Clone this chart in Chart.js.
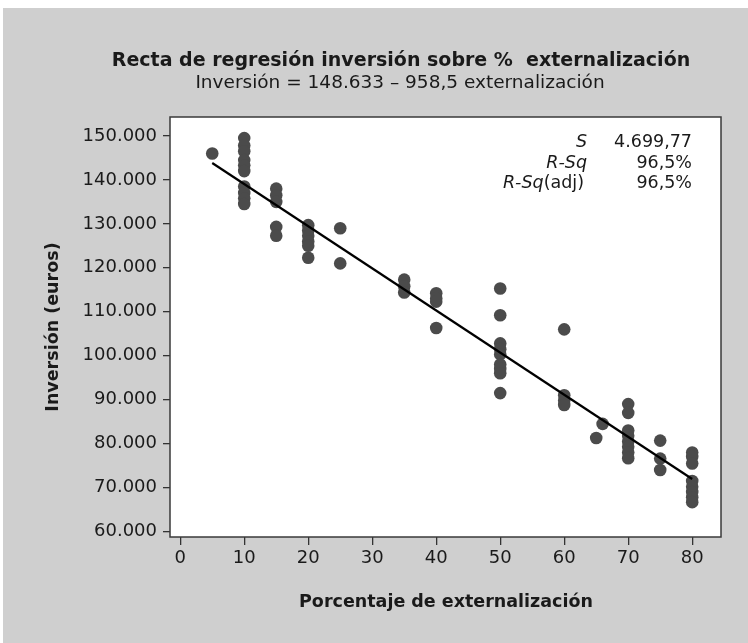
<!DOCTYPE html>
<html>
<head>
<meta charset="utf-8">
<script src="https://cdn.jsdelivr.net/npm/chart.js"></script>
<style>
  body { margin: 0; background: #fff; }
  #bg { position: absolute; left: 3px; top: 8px; width: 745px; height: 635px; background: #cfcfcf; }
  canvas { position: absolute; left: 0; top: 0; }
</style>
</head>
<body>
<div id="bg"></div>
<canvas id="Chart" width="748" height="643"></canvas>
<script>
// porcentaje de externalizacion (x) and inversion in euros (y)
const pctExternal = [
  5,
  10, 10, 10, 10, 10, 10, 10, 10, 10, 10,
  15, 15, 15, 15, 15,
  20, 20, 20, 20, 20, 20,
  25, 25,
  35, 35, 35,
  40, 40, 40, 40,
  50, 50, 50, 50, 50, 50, 50, 50, 50,
  60, 60, 60, 60,
  65, 66,
  70, 70, 70, 70, 70, 70, 70, 70,
  75, 75, 75,
  80, 80, 80, 80, 80, 80, 80, 80
];
const inversion = [
  146000,
  149500, 147800, 146500, 144500, 143300, 142000, 138500, 137000, 135800, 134500,
  138000, 136500, 135000, 129300, 127300,
  129700, 128500, 127300, 126000, 125000, 122300,
  129000, 121000,
  117300, 115800, 114400,
  114200, 113000, 112300, 106300,
  115300, 109200, 102800, 101500, 100300, 98000, 97000, 96000, 91500,
  106000, 91000, 89800, 88800,
  81300, 84500,
  89000, 87000, 83000, 81800, 80500, 79300, 78000, 76700,
  80700, 76600, 74000,
  78000, 77000, 75500, 71500, 70200, 69000, 67800, 66700
];
// fitted line: Inversion = 148.633 - 958,5 externalizacion
const lineX = [5, 80];
const lineY = [143841, 71953];

const xTicks = [0, 10, 20, 30, 40, 50, 60, 70, 80];
const yTicks = [60000, 70000, 80000, 90000, 100000, 110000, 120000, 130000, 140000, 150000];

const statLabels = ['S', 'R-Sq', 'R-Sq'];
const statValues = ['4.699,77', '96,5%', '96,5%'];

const FONT = '"DejaVu Sans"';
const INK = '#1a1a1a';

function miles(v){
  return String(Math.round(v)).replace(/\B(?=(\d{3})+(?!\d))/g, '.');
}

const scatterPts = pctExternal.map((x, i) => ({x: x, y: inversion[i]}));
const linePts = lineX.map((x, i) => ({x: x, y: lineY[i]}));

const extras = {
  id: 'extras',
  beforeDraw(chart){
    const a = chart.chartArea, ctx = chart.ctx;
    ctx.save();
    ctx.fillStyle = '#fff';
    ctx.fillRect(a.left, a.top, a.right - a.left, a.bottom - a.top);
    ctx.restore();
  },
  afterDraw(chart){
    const a = chart.chartArea, ctx = chart.ctx;
    ctx.save();
    ctx.strokeStyle = '#3a3a3a';
    ctx.lineWidth = 1.5;
    ctx.strokeRect(a.left, a.top, a.right - a.left, a.bottom - a.top);

    ctx.fillStyle = INK;
    ctx.textAlign = 'center';
    ctx.textBaseline = 'alphabetic';
    ctx.font = 'bold 19px ' + FONT;
    ctx.fillText('Recta de regresión inversión sobre %  externalización', 401, 66);
    ctx.font = '18.5px ' + FONT;
    ctx.fillText('Inversión = 148.633 – 958,5 externalización', 400, 88);

    // axis titles
    ctx.font = 'bold 17.5px ' + FONT;
    ctx.fillText('Porcentaje de externalización', 446, 607);
    ctx.save();
    ctx.translate(58, 327);
    ctx.rotate(-Math.PI / 2);
    ctx.fillText('Inversión (euros)', 0, 0);
    ctx.restore();

    // stats box
    const rows = [147, 167.5, 188];
    ctx.textAlign = 'right';
    for (let i = 0; i < statLabels.length; i++){
      let xr = i == 2 ? 584 : 587;
      if (i == 2){
        ctx.font = '17.5px ' + FONT;
        ctx.fillText('(adj)', xr, rows[i]);
        xr -= ctx.measureText('(adj)').width;
      }
      ctx.font = 'italic 17.5px ' + FONT;
      ctx.fillText(statLabels[i], xr, rows[i]);
      ctx.font = '17.5px ' + FONT;
      ctx.fillText(statValues[i], 692, rows[i]);
    }
    ctx.restore();
  }
};

const ctx = document.getElementById('Chart').getContext('2d');
const myChart = new Chart(ctx, {
  type: 'scatter',
  data: {
    datasets: [
      {
        type: 'line',
        data: linePts,
        borderColor: '#000',
        borderWidth: 2.2,
        pointRadius: 0,
        fill: false
      },
      {
        data: scatterPts,
        backgroundColor: '#4b4b4b',
        borderWidth: 0,
        pointRadius: 6.3
      }
    ]
  },
  options: {
    responsive: false,
    animation: false,
    layout: { padding: { left: 0, top: 117, right: 27, bottom: 0 } },
    plugins: { legend: { display: false }, tooltip: { enabled: false } },
    scales: {
      x: {
        type: 'linear',
        min: -1.6,
        max: 84.5,
        afterBuildTicks(scale){ scale.ticks = xTicks.map(v => ({value: v})); },
        afterFit(scale){ scale.height = 106; },
        border: { display: false },
        grid: { drawOnChartArea: false, tickLength: 8, color: '#333', lineWidth: 1.3 },
        ticks: { color: INK, font: { family: FONT, size: 18 }, padding: 3, maxRotation: 0 }
      },
      y: {
        min: 58770,
        max: 154300,
        afterBuildTicks(scale){ scale.ticks = yTicks.map(v => ({value: v})); },
        afterFit(scale){ scale.width = 170; },
        border: { display: false },
        grid: { drawOnChartArea: false, tickLength: 7, color: '#333', lineWidth: 1.3 },
        ticks: {
          color: INK,
          font: { family: FONT, size: 18 },
          padding: 6,
          callback: v => miles(v)
        }
      }
    }
  },
  plugins: [extras]
});
</script>
</body>
</html>
